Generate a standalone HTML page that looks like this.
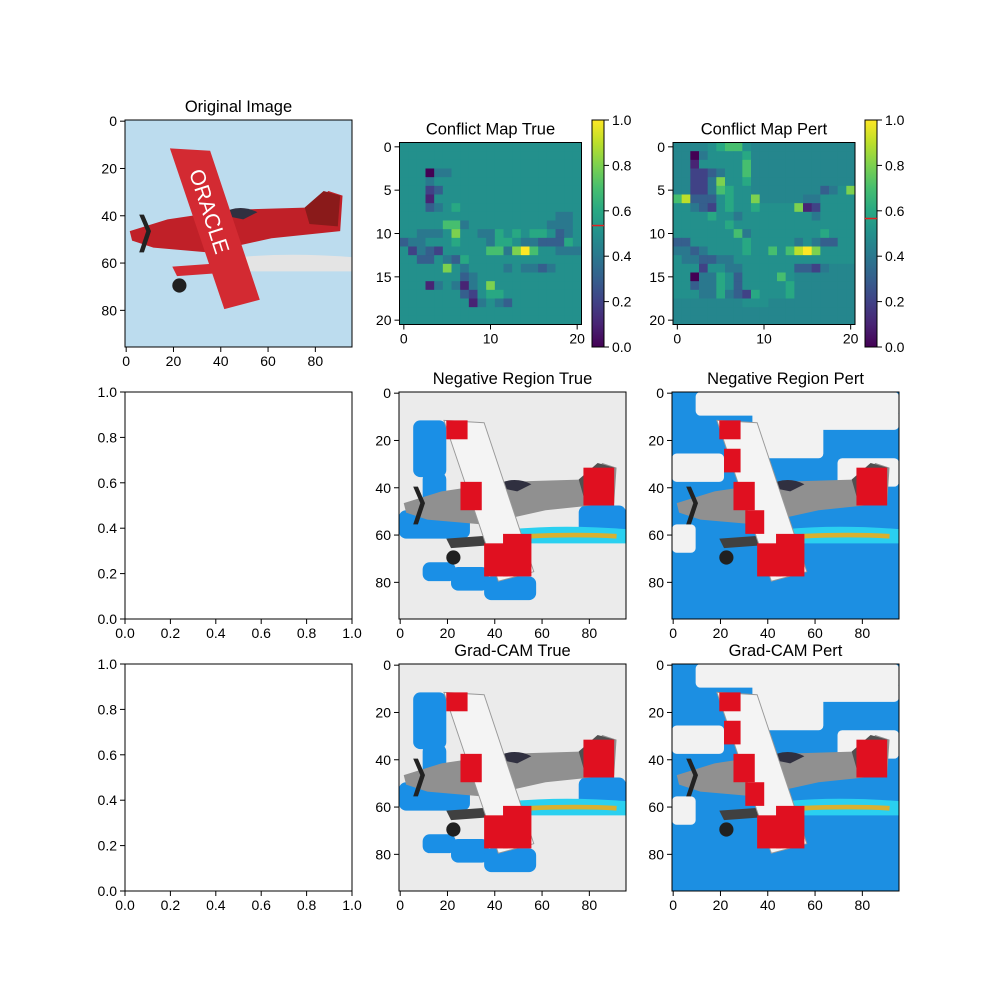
<!DOCTYPE html>
<html><head><meta charset="utf-8"><style>
body{margin:0;background:#fff}
svg text{font-family:"Liberation Sans","DejaVu Sans",sans-serif}
</style></head><body>
<svg id="fig" width="1000" height="1000" viewBox="0 0 1000 1000" xmlns="http://www.w3.org/2000/svg">
<rect width="1000" height="1000" fill="#fff"/>
</svg>
<script>
const conflictTrue = [
"555555555555555555555","555555555555555555555","555555555555555555555",
"555044555555555555555","555455555555555555555","555235555555555555555",
"555155555555555555555","555345655555555555555","555555555555555555445",
"555557745555555554445","554445855446565665345","344555655546654433365",
"52432555557748a755444","553354365555555555555","555558545555454434555",
"555555534555555555555","555145414585555555555","555555532566555555555",
"555555551454355555555","555555555555555555555","555555555555555555555"];
const conflictPert = [
"bbbb56775bbbbbbbbbbbb","bb0455556bbbbbbbbbbbb","bb1555557bbbbbbbbbbbb",
"bb2234557bbbbbbbbbbbb","bb2248556bbbbbbbbbbbb","bb2247655bbbbbbbb3458",
"7933356558bbbbb445555","554325655655558125555","555565545555555545555",
"555555655555555555555","555555574555555556555","335555556555554543355",
"443455556557579a85555","544334455555555555555","555255445555553324bbb",
"55044653555575bbbbbbb","55344653555556bbbbbbb","55544643265556bbbbbbb",
"bbbbbbbb555bbbbbbbbbb","bbbbbbbbbbbbbbbbbbbbb","bbbbbbbbbbbbbbbbbbbbb"];
const imgTicks = [0,20,40,60,80];
const mapXTicks = [0,10,20];
const mapYTicks = [0,5,10,15,20];
const unitTicks = [0,0.2,0.4,0.6,0.8,1.0];
const cbarTicks = [0,0.2,0.4,0.6,0.8,1.0];
const cbarMarkTrue = 0.535, cbarMarkPert = 0.566;

const NS="http://www.w3.org/2000/svg", fig=document.getElementById('fig');
function el(tag,attrs,parent){const e=document.createElementNS(NS,tag);for(const k in attrs)e.setAttribute(k,attrs[k]);(parent||fig).appendChild(e);return e;}
function val(c){if(c==='a')return 1.0;if(c==='b')return 0.46;return parseInt(c)/10;}
const vir=[[68,1,84],[72,40,120],[62,73,137],[49,104,142],[38,130,142],[31,158,137],[53,183,121],[110,206,88],[181,222,43],[253,231,37]];
function viridis(t){t=Math.max(0,Math.min(1,t));const p=t*9,i=Math.min(8,Math.floor(p)),f=p-i;const a=vir[i],b=vir[i+1];return `rgb(${a.map((v,k)=>Math.round(v+(b[k]-v)*f)).join(',')})`;}

function text(x,y,s,anchor,size,name){const t=el('text',{x:x,y:y,'text-anchor':anchor,'font-size':size,fill:'#000'});t.textContent=s;return t;}
function frame(x,y,w,h,name){const r=el('rect',{x:x,y:y,width:w,height:h,fill:'none',stroke:'#000','stroke-width':1});}
function axesTicks(x,y,w,h,xt,yt,xs,ys,fmt,prefix){
  const g=el('g',{});
  xt.forEach(v=>{const px=xs(v);el('line',{x1:px,x2:px,y1:y+h,y2:y+h+5,stroke:'#000'},g);const t=text(px,y+h+19,fmt(v),'middle',14,prefix+'-x-tick-label');g.appendChild(t);});
  yt.forEach(v=>{const py=ys(v);el('line',{x1:x-5,x2:x,y1:py,y2:py,stroke:'#000'},g);const t=text(x-8,py+5,fmt(v),'end',14,prefix+'-y-tick-label');g.appendChild(t);});
}
function imgPanel(x,y,s,variant,title,name){
  const g=el('g',{transform:`translate(${x},${y}) scale(${s/96})`});
  
  
  const pert=variant.indexOf('pert')>=0, orig=variant==='orig';
  const bg=orig?'#bcdcee':(pert?'#1c8fe2':'#ebebeb');
  el('rect',{x:0,y:0,width:96,height:96,fill:bg},g);
  if(!orig && !pert){
    [[6,12,14,24],[10,34,10,22],[0,50,30,12],[10,72,14,8],[22,74,16,10],[36,78,22,10],[76,48,20,14]].forEach(r=>el('rect',{x:r[0],y:r[1],width:r[2],height:r[3],rx:3,fill:'#1a8fe6'},g));
  }
  if(pert){
    [[10,0,86,10],[34,8,30,20],[60,8,36,8],[0,26,22,12],[70,28,26,12],[0,56,10,12]].forEach(r=>el('rect',{x:r[0],y:r[1],width:r[2],height:r[3],rx:2,fill:'#f2f2f2'},g));
  }
  el('path',{d:'M48 58 Q70 56 96 58 L96 64 Q70 64 50 64 Z',fill:orig?'#e4e4e4':'#2ad0f0'},g);
  if(!orig) el('path',{d:'M55 61 Q75 60 92 61',stroke:'#d8b030','stroke-width':2,fill:'none'},g);
  const red=orig?'#d32a32':'#e01020', dark=orig?'#8a1a1a':'#505050', body=orig?'#c02028':'#909090';
  el('path',{d:'M2 47 L18 42 L45 38 L78 37 L86 30 L92 32 L91 47 L62 50 L35 56 L12 54 L3 51 Z',fill:body},g);
  el('path',{d:'M76 37 L84 30 L91 32 L90 45 L78 44 Z',fill:dark},g);
  el('path',{d:'M40 40 Q48 35 56 39 L50 42 Z',fill:'#303040'},g);
  el('path',{d:'M20 62 L48 60 L50 64 L22 66 Z',fill:orig?red:'#404040'},g);
  el('circle',{cx:23,cy:70,r:3,fill:'#202020'},g);
  el('circle',{cx:44,cy:74,r:2,fill:'#202020'},g);
  el('path',{d:'M19 12 L36 13 L57 76 L42 80 Z',fill:orig?red:'#f4f4f4',stroke:orig?'none':'#999','stroke-width':0.4},g);
  if(!orig){
    [[20,12,9,8],[22,24,7,10],[26,38,9,12],[31,50,8,10],[36,64,10,14]].forEach((r,i)=>{ if(i%2===0||pert) el('rect',{x:r[0],y:r[1],width:r[2],height:r[3],fill:red},g);});
    el('rect',{x:44,y:60,width:12,height:18,fill:red},g);
    el('rect',{x:78,y:32,width:13,height:16,fill:red},g);
  } else {
    const t=el('text',{x:0,y:0,'font-size':9,fill:'#fff',style:'fill:#fff',transform:'translate(27,22) rotate(72)'},g);
    t.textContent='ORACLE';
    
    
  }
  el('path',{d:'M6 40 L9 47 L6 56 L8 56 L11 47 L8 40 Z',fill:'#222'},g);
  frame(x,y,s,s,name+'-frame');
  text(x+s/2,y-8,title,'middle',16.5,name+'-title');
  const sc=v=>x+(v+0.5)*s/96, sy=v=>y+(v+0.5)*s/96;
  axesTicks(x,y,s,s,imgTicks,imgTicks,sc,sy,v=>String(v),name);
}
function heatPanel(x,y,s,data,title,name,cbx,mark){
  const g=el('g',{});
  
  
  const n=data.length,c=s/n;
  data.forEach((row,i)=>{for(let j=0;j<row.length;j++){
    el('rect',{x:x+j*c,y:y+i*c,width:c+0.4,height:c+0.4,fill:viridis(val(row[j]))},g);
  }});
  frame(x,y,s,s,name+'-frame');
  text(x+s/2,y-8,title,'middle',16.5,name+'-title');
  const sc=v=>x+(v+0.5)*c, sy=v=>y+(v+0.5)*c;
  axesTicks(x,y,s,s,mapXTicks,mapYTicks,sc,sy,v=>String(v),name);
  const cy=120,ch=227,cw=12;
  const defsId='grad-'+name;
  const defs=el('defs',{});
  const lg=el('linearGradient',{id:defsId,x1:0,y1:1,x2:0,y2:0},defs);
  for(let k=0;k<=10;k++) el('stop',{offset:k/10,'stop-color':viridis(k/10)},lg);
  const cb=el('g',{});
  
  
  el('rect',{x:cbx,y:cy,width:cw,height:ch,fill:`url(#${defsId})`,stroke:'#000'},cb);
  const my=cy+ch*(1-mark);
  el('line',{x1:cbx,x2:cbx+cw,y1:my,y2:my,stroke:'#e02020','stroke-width':1.5},cb);
  cbarTicks.forEach(v=>{const py=cy+ch*(1-v);el('line',{x1:cbx+cw,x2:cbx+cw+5,y1:py,y2:py,stroke:'#000'},cb);cb.appendChild(text(cbx+cw+8,py+5,v.toFixed(1),'start',14,name+'-colorbar-tick'));});
}
function emptyPanel(x,y,s,name){
  frame(x,y,s,s,name+'-frame');
  const sc=v=>x+v*s, sy=v=>y+s-v*s;
  axesTicks(x,y,s,s,unitTicks,unitTicks,sc,sy,v=>v.toFixed(1),name);
}
imgPanel(125,120,227,'orig','Original Image','original-image');
heatPanel(399.5,142.5,182,conflictTrue,'Conflict Map True','conflict-map-true',592,cbarMarkTrue);
heatPanel(673,142.5,182,conflictPert,'Conflict Map Pert','conflict-map-pert',865,cbarMarkPert);
emptyPanel(125,392,227,'empty-axes-row2');
imgPanel(399,392,227,'negtrue','Negative Region True','negative-region-true');
imgPanel(672,392,227,'negpert','Negative Region Pert','negative-region-pert');
emptyPanel(125,664,227,'empty-axes-row3');
imgPanel(399,664,227,'gradtrue','Grad-CAM True','grad-cam-true');
imgPanel(672,664,227,'gradpert','Grad-CAM Pert','grad-cam-pert');
</script>
</body></html>
